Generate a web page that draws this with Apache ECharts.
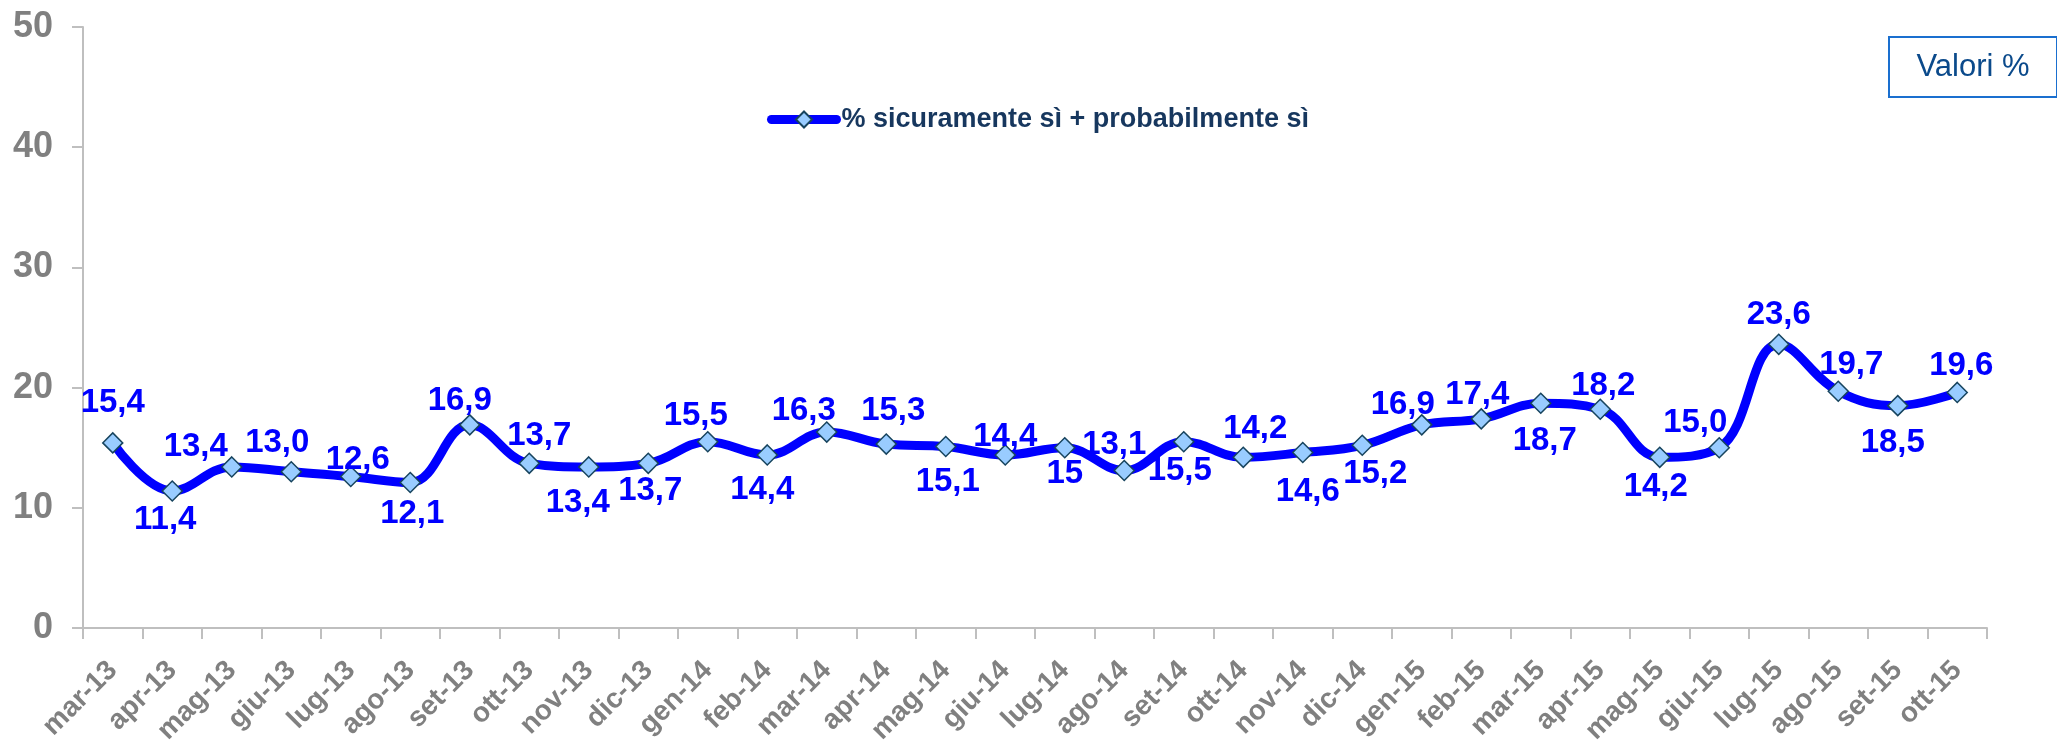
<!DOCTYPE html>
<html>
<head>
<meta charset="UTF-8">
<title>% sicuramente sì + probabilmente sì</title>
<script src="https://cdn.jsdelivr.net/npm/echarts@6/dist/echarts.min.js"></script>
<style>
	html, body { margin: 0; padding: 0; background: #fff; }
	#chart { width: 2057px; height: 747px; }
</style>
</head>
<body>
<div id="chart"></div>
<script>
	// mesi (asse x)
	var mesi = ['mar-13', 'apr-13', 'mag-13', 'giu-13', 'lug-13', 'ago-13', 'set-13', 'ott-13', 'nov-13', 'dic-13',
		'gen-14', 'feb-14', 'mar-14', 'apr-14', 'mag-14', 'giu-14', 'lug-14', 'ago-14', 'set-14', 'ott-14', 'nov-14', 'dic-14',
		'gen-15', 'feb-15', 'mar-15', 'apr-15', 'mag-15', 'giu-15', 'lug-15', 'ago-15', 'set-15', 'ott-15'];

	// % sicuramente sì + probabilmente sì
	var valori = [15.4, 11.4, 13.4, 13.0, 12.6, 12.1, 16.9, 13.7, 13.4, 13.7,
		15.5, 14.4, 16.3, 15.3, 15.1, 14.4, 15, 13.1, 15.5, 14.2, 14.6, 15.2,
		16.9, 17.4, 18.7, 18.2, 14.2, 15.0, 23.6, 19.7, 18.5, 19.6];

	// testo delle etichette come appare nel grafico
	var etichette = ['15,4', '11,4', '13,4', '13,0', '12,6', '12,1', '16,9', '13,7', '13,4', '13,7',
		'15,5', '14,4', '16,3', '15,3', '15,1', '14,4', '15', '13,1', '15,5', '14,2', '14,6', '15,2',
		'16,9', '17,4', '18,7', '18,2', '14,2', '15,0', '23,6', '19,7', '18,5', '19,6'];

	var assiY = [0, 10, 20, 30, 40, 50];

	// spostamento delle etichette rispetto al punto (px)
	var spostX = [0, -7, -36, -14, 7, 2, -10, 10, -11, 2, -12, -5, -23, 7, 2, 0, 0, -10, -4, 12, 5, 13,
		-19, -4, 4, 3, -4, -24, 0, 13, -5, 4];
	var spostY = [-40, 29, -20, -29, -17, 31, -24, -27, 36, 28, -26, 35, -21, -33, 35, -18, 26, -26, 29, -28, 39, 29,
		-20, -24, 38, -23, 30, -25, -29, -26, 37, -27];

	var font = '"Liberation Sans", Arial, sans-serif';

	var dati = [];
	for (var i = 0; i < valori.length; i++) {
		dati.push({
			value: valori[i],
			label: { offset: [spostX[i], spostY[i]] }
		});
	}

	var myChart = echarts.init(document.getElementById('chart'));
	var option = {
		animation: false,
		backgroundColor: '#ffffff',
		textStyle: { fontFamily: font },
		grid: {
			left: 83,
			right: 70,
			top: 27,
			bottom: 119,
			containLabel: false,
			outerBoundsMode: 'none'
		},
		legend: {
			left: 767,
			top: 106,
			padding: 0,
			itemWidth: 65,
			itemHeight: 20,
			itemGap: 5,
			lineStyle: { width: 9, cap: 'round' },
			textStyle: {
				color: '#17375e',
				fontSize: 27,
				fontWeight: 'bold',
				fontFamily: font
			},
			data: ['% sicuramente sì + probabilmente sì']
		},
		xAxis: {
			type: 'category',
			data: mesi,
			boundaryGap: true,
			axisLine: { show: true, lineStyle: { color: '#bfbfbf', width: 2 } },
			axisTick: { show: true, length: 11, interval: 0, lineStyle: { color: '#bfbfbf', width: 2 } },
			splitLine: { show: false },
			axisLabel: {
				interval: 0,
				rotate: 45,
				margin: 38,
				color: '#808080',
				fontSize: 28,
				fontWeight: 'bold',
				fontFamily: font
			}
		},
		yAxis: {
			type: 'value',
			min: assiY[0],
			max: assiY[assiY.length - 1],
			interval: 10,
			axisLine: { show: true, lineStyle: { color: '#bfbfbf', width: 2 } },
			axisTick: { show: true, length: 11, lineStyle: { color: '#bfbfbf', width: 2 } },
			splitLine: { show: false },
			axisLabel: {
				margin: 30,
				color: '#808080',
				fontSize: 36,
				fontWeight: 'bold',
				fontFamily: font
			}
		},
		series: [
			{
				name: '% sicuramente sì + probabilmente sì',
				type: 'line',
				smooth: 0.4,
				data: dati,
				symbol: 'diamond',
				symbolSize: 20,
				showAllSymbol: true,
				lineStyle: { color: '#0000ff', width: 9 },
				itemStyle: { color: '#99ccff', borderColor: '#17445e', borderWidth: 1.5 },
				label: {
					show: true,
					position: 'inside',
					color: '#0000ff',
					fontSize: 33,
					fontWeight: 'bold',
					fontFamily: font,
					formatter: function (p) {
						return etichette[p.dataIndex];
					}
				},
				emphasis: { disabled: true }
			}
		],
		graphic: [
			{
				type: 'group',
				left: 1888,
				top: 36,
				children: [
					{
						type: 'rect',
						shape: { x: 0, y: 0, width: 168, height: 60 },
						style: { fill: '#ffffff', stroke: '#1a6fcf', lineWidth: 2 }
					},
					{
						type: 'text',
						x: 84,
						y: 30,
						style: {
							text: 'Valori %',
							fill: '#0b4a8b',
							fontSize: 31,
							fontFamily: font,
							align: 'center',
							verticalAlign: 'middle'
						}
					}
				]
			}
		]
	};
	myChart.setOption(option);
</script>
</body>
</html>
